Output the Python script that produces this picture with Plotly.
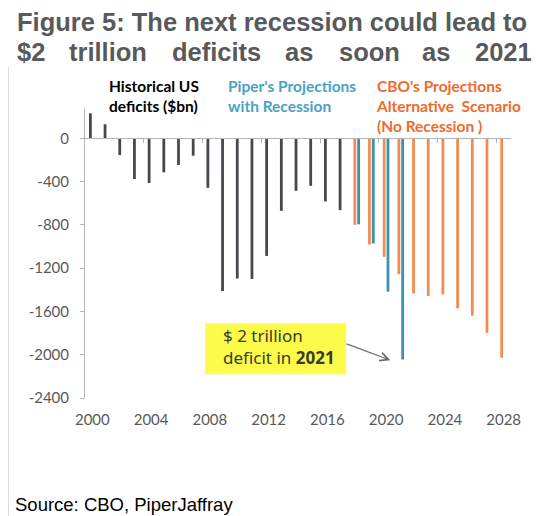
import plotly.graph_objects as go

# dados (bilhões de US$)
anos_hist = list(range(2000, 2018))
deficit_hist = [231, 130, -155, -377, -413, -315, -247, -161, -458, -1412,
                -1296, -1300, -1087, -670, -485, -439, -583, -664]

anos_cbo = list(range(2018, 2029))
deficit_cbo = [-800, -982, -1095, -1256, -1435, -1457, -1442, -1572, -1640, -1797, -2028]

anos_piper = [2018, 2019, 2020, 2021]
deficit_piper = [-795, -972, -1417, -2044]

anos_ticks = [2000, 2004, 2008, 2012, 2016, 2020, 2024, 2028]
valores_y = [0, -400, -800, -1200, -1600, -2000, -2400]
rotulos_y = ['0', '-400', '-800', '-1200', '-1600', '-2000', '-2400']

CINZA = '#45484c'
LARANJA = '#f38c52'
AZUL = '#3b91b0'
EIXO = '#b4b4b4'
TEXTO_EIXO = '#595959'

# a página tem margem de 8px, então a figura começa em (8, 8)
OFF = 8
W, H = 540 - OFF, 516 - OFF
# área do gráfico em pixels da página
X0, X1, Y0, Y1 = 85, 510.7, 108, 397.7


def px(x):
    return (x - X0) / (X1 - X0)


def py(y):
    return (Y1 - y) / (Y1 - Y0)


fig = go.Figure()
fig.add_trace(go.Bar(x=anos_hist, y=deficit_hist, marker_color=CINZA, width=0.19,
                     offset=-0.23, xaxis='x2', yaxis='y'))
fig.add_trace(go.Bar(x=anos_cbo, y=deficit_cbo, marker_color=LARANJA, width=0.19, offset=-0.23))
fig.add_trace(go.Bar(x=anos_piper, y=deficit_piper, marker_color=AZUL, width=0.19, offset=0.03))

fig.update_traces(marker_line_width=0)

faixa_x = [1999.5, 2028.5]
fig.update_layout(
    width=W, height=H,
    margin=dict(l=X0 - OFF, r=540 - X1, t=Y0 - OFF, b=516 - Y1),
    paper_bgcolor='white', plot_bgcolor='white',
    barmode='overlay', showlegend=False,
    xaxis=dict(range=faixa_x, showgrid=False, zeroline=False, showline=False,
               tickvals=anos_ticks, ticks='', ticklabelstandoff=11,
               tickfont=dict(family='Lato', size=15, color=TEXTO_EIXO)),
    xaxis2=dict(range=faixa_x, overlaying='x', anchor='free', position=py(138.3), side='bottom',
                showline=True, linecolor=EIXO, linewidth=1, showgrid=False, zeroline=False,
                ticks='outside', ticklen=4, tickcolor=EIXO,
                tickvals=[a + 3.5 for a in anos_ticks[:-1]], showticklabels=False),
    yaxis=dict(range=[-2400, 280], showgrid=False, zeroline=False, showline=True,
               linecolor=EIXO, linewidth=1, ticks='outside', ticklen=4, tickcolor=EIXO,
               tickvals=valores_y, ticktext=rotulos_y, ticklabelstandoff=8,
               tickfont=dict(family='Lato', size=15, color=TEXTO_EIXO)),
)

# título (segunda linha justificada)
fonte_titulo = dict(family='Liberation Sans, Arial', size=25.5, color='#58595b')
fig.add_annotation(text='<b>Figure 5: The next recession could lead to</b>', xref='paper', yref='paper',
                   x=px(15.5), y=py(22), xanchor='left', yanchor='middle', showarrow=False,
                   font=fonte_titulo)
palavras = [('$2', 15.5), ('trillion', 67), ('deficits', 170), ('as', 283),
            ('soon', 337), ('as', 420), ('2021', 473)]
for p, xp in palavras:
    fig.add_annotation(text='<b>' + p + '</b>', xref='paper', yref='paper',
                       x=px(xp), y=py(52), xanchor='left', yanchor='middle', showarrow=False,
                       font=fonte_titulo)

# rótulos das séries
fig.add_annotation(text='<b>Historical US<br>deficits ($bn)</b>', xref='paper', yref='paper',
                   x=px(107), y=py(96), xanchor='left', yanchor='middle', align='left',
                   showarrow=False, font=dict(family='Lato', size=15.5, color='black'))
fig.add_annotation(text="<b>Piper's Projections<br>with Recession</b>", xref='paper', yref='paper',
                   x=px(226), y=py(96), xanchor='left', yanchor='middle', align='left',
                   showarrow=False, font=dict(family='Lato', size=15.5, color='#4aa2c4'))
fig.add_annotation(text="<b>CBO's Projections<br>Alternative\u00a0 Scenario<br>(No Recession )</b>",
                   xref='paper', yref='paper',
                   x=px(374), y=py(106.5), xanchor='left', yanchor='middle', align='left',
                   showarrow=False, font=dict(family='Lato', size=15.5, color='#f06a2c'))

# caixa amarela e seta
fig.add_shape(type='rect', xref='paper', yref='paper', x0=px(205), x1=px(346), y0=py(323), y1=py(374),
              fillcolor='#fdfb4a', line_width=0, layer='below')
fig.add_annotation(text='$ 2 trillion<br>deficit in <b>2021</b>', xref='paper', yref='paper',
                   x=px(221), y=py(346), xanchor='left', yanchor='middle', align='left',
                   showarrow=False, font=dict(family='Noto Sans', size=17, color='#3a3a2a'))
fig.add_annotation(text='', x=2020.28, y=-2051, ax=2017.21, ay=-1894, axref='x', ayref='y',
                   showarrow=True, arrowhead=5, arrowsize=1.4, arrowwidth=1.2, arrowcolor='#6a6a6a')

# borda esquerda e fonte
fig.add_shape(type='line', xref='paper', yref='paper', x0=px(8.5), x1=px(8.5), y0=py(67), y1=py(516),
              line=dict(color='#dcdcdc', width=1))
fig.add_annotation(text='Source: CBO, PiperJaffray', xref='paper', yref='paper',
                   x=px(13), y=py(504), xanchor='left', yanchor='middle', showarrow=False,
                   font=dict(family='Liberation Sans, Arial', size=18.5, color='black'))

fig.write_html('out.html')
